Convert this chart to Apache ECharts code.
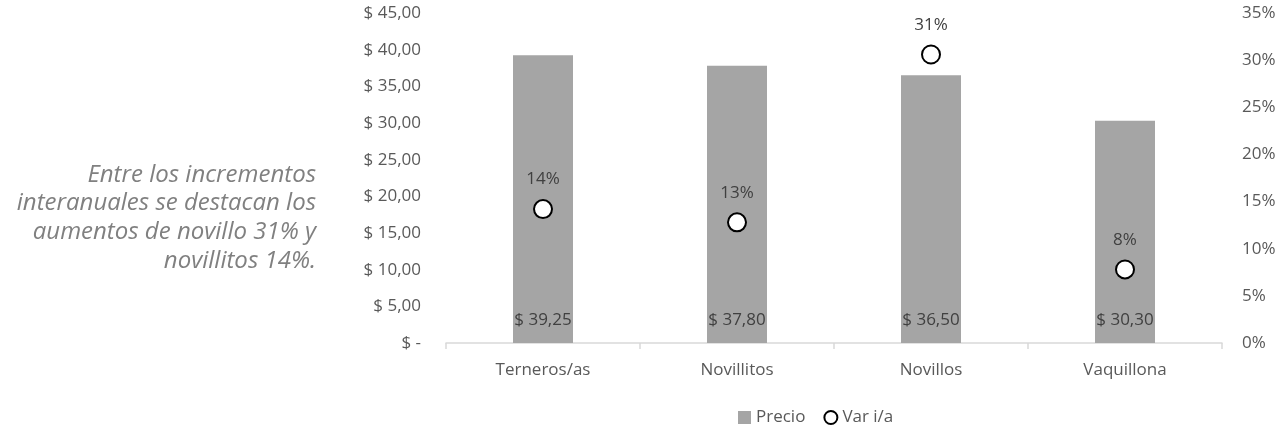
<!DOCTYPE html>
<html><head><meta charset="utf-8">
<script src="https://cdn.jsdelivr.net/npm/echarts@6/dist/echarts.min.js"></script>
<style>html,body{margin:0;padding:0;background:#fff}#c{width:1281px;height:429px}</style>
</head><body><div id="c"></div>
<script>
const categories = ['Terneros/as', 'Novillitos', 'Novillos', 'Vaquillona'];
const precio = [39.25, 37.80, 36.50, 30.30];
const varIA = [0.142, 0.128, 0.306, 0.078];
const noteLines = ['Entre los incrementos', 'interanuales se destacan los', 'aumentos de novillo 31% y', 'novillitos 14%.'];

const fmtMoney = v => v === 0 ? '$ -' : '$ ' + v.toFixed(2).replace('.', ',');
const FONT = 'Open Sans';
const FS = 17;
const chart = echarts.init(document.getElementById('c'));
chart.setOption({
  animation: false,
  textStyle: { fontFamily: FONT },
  grid: { left: 446, right: 59, top: 13, bottom: 86, containLabel: false },
  legend: {
    top: 404, left: 733, itemGap: 18, itemWidth: 13, itemHeight: 13,
    textStyle: { color: '#595959', fontSize: FS, fontFamily: FONT },
    data: [
      { name: 'Precio', icon: 'rect', itemStyle: { color: '#a5a5a5' } },
      { name: 'Var i/a', icon: 'circle', itemStyle: { color: '#fff', borderColor: '#000', borderWidth: 2 } }
    ]
  },
  xAxis: {
    type: 'category', data: categories,
    axisLine: { lineStyle: { color: '#d9d9d9', width: 1.5 } },
    axisTick: { show: true, length: 6, lineStyle: { color: '#d9d9d9', width: 1.5 } },
    axisLabel: { color: '#595959', fontSize: FS, margin: 19 }
  },
  yAxis: [
    { type: 'value', min: 0, max: 45, interval: 5,
      splitLine: { show: false }, axisLine: { show: false }, axisTick: { show: false },
      axisLabel: { color: '#595959', fontSize: FS, margin: 25, formatter: fmtMoney } },
    { type: 'value', min: 0, max: 0.35, interval: 0.05,
      splitLine: { show: false }, axisLine: { show: false }, axisTick: { show: false },
      axisLabel: { color: '#595959', fontSize: FS, margin: 20, formatter: v => Math.round(v * 100) + '%' } }
  ],
  series: [
    { name: 'Precio', type: 'bar', data: precio, barWidth: 60, yAxisIndex: 0,
      itemStyle: { color: '#a5a5a5' },
      label: { show: true, position: 'insideBottom', distance: 14, color: '#404040', fontSize: FS,
        formatter: p => fmtMoney(p.value) } },
    { name: 'Var i/a', type: 'scatter', data: varIA, yAxisIndex: 1, symbol: 'circle', symbolSize: 18,
      itemStyle: { color: '#fff', borderColor: '#000', borderWidth: 2, opacity: 1 },
      label: { show: true, position: 'top', distance: 11, color: '#404040', fontSize: FS,
        formatter: p => Math.round(p.value * 100) + '%' } }
  ],
  graphic: noteLines.map((t, i) => ({
    type: 'text', x: 316, y: 175 + i * 28.6,
    style: { text: t, fill: '#808080', font: 'italic 24px "Open Sans"', textAlign: 'right', textVerticalAlign: 'middle' }
  }))
});
</script></body></html>
